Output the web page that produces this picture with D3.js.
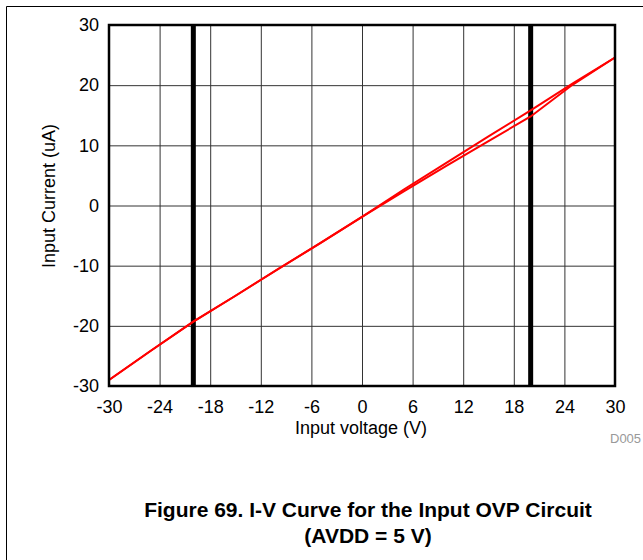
<!DOCTYPE html>
<html>
<head>
<meta charset="utf-8">
<script src="https://cdn.jsdelivr.net/npm/d3@7"></script>
<style>
  body { margin: 0; background: #fff; }
  svg { display: block; font-family: Arial, "Liberation Sans", sans-serif; }
</style>
</head>
<body>
<svg id="chart" width="643" height="560"></svg>
<script>
// sweep going up (lower branch) and coming back down (upper branch)
const voltageUp = [-30, -25, -20, -15, -10, -5, 0, 5, 10, 15, 20, 25, 30];
const currentUp = [-29.0, -24.1, -19.3, -15.0, -10.6, -6.3, -1.9, 2.4, 6.6, 10.7, 14.8, 20.1, 24.6];
const voltageDown = [30, 25, 20, 15, 10, 5, 0, -5, -10, -15, -20, -25, -30];
const currentDown = [24.6, 20.3, 15.8, 11.5, 7.1, 2.7, -1.9, -6.3, -10.6, -15.0, -19.3, -24.1, -29.0];

const xTicks = [-30, -24, -18, -12, -6, 0, 6, 12, 18, 24, 30];
const yTicks = [-30, -20, -10, 0, 10, 20, 30];
const ovpLimits = [-20, 20];

const xLabel = 'Input voltage (V)';
const yLabel = 'Input Current (uA)';
const figureId = 'D005';
const titleLines = ['Figure 69. I-V Curve for the Input OVP Circuit', '(AVDD = 5 V)'];

const svg = d3.select('#chart');
const margin = { left: 109, top: 25, right: 28, bottom: 174 };
const width = 643 - margin.left - margin.right;
const height = 560 - margin.top - margin.bottom;
const tickFont = '18px';

// page frame (top and left only)
svg.append('path')
    .attr('d', 'M6.5,560 L6.5,6.5 L643,6.5')
    .attr('fill', 'none')
    .attr('stroke', '#000')
    .attr('stroke-width', 1);

const g = svg.append('g').attr('transform', `translate(${margin.left},${margin.top})`);

const x = d3.scaleLinear().domain([-30, 30]).range([0, width]);
const y = d3.scaleLinear().domain([-30, 30]).range([height, 0]);

// grid
g.append('g')
    .attr('class', 'xgrid')
    .attr('transform', `translate(0,${height})`)
    .call(d3.axisBottom(x).tickValues(xTicks).tickSize(-height).tickFormat(''))
    .call(a => a.select('.domain').remove())
    .selectAll('line').attr('stroke', '#333').attr('stroke-width', 1);

g.append('g')
    .attr('class', 'ygrid')
    .call(d3.axisLeft(y).tickValues(yTicks).tickSize(-width).tickFormat(''))
    .call(a => a.select('.domain').remove())
    .selectAll('line').attr('stroke', '#333').attr('stroke-width', 1);

// thick OVP threshold markers
g.selectAll('line.limit')
    .data(ovpLimits)
    .join('line')
    .attr('class', 'limit')
    .attr('x1', d => x(d)).attr('x2', d => x(d))
    .attr('y1', 0).attr('y2', height)
    .attr('stroke', '#000')
    .attr('stroke-width', 5);

// curves
const line = d3.line()
    .x(d => x(d[0]))
    .y(d => y(d[1]));

const sweeps = [
    d3.zip(voltageUp, currentUp),
    d3.zip(voltageDown, currentDown)
];

g.selectAll('path.curve')
    .data(sweeps)
    .join('path')
    .attr('class', 'curve')
    .attr('d', line)
    .attr('fill', 'none')
    .attr('stroke', '#ff0000')
    .attr('stroke-width', 2);

// plot border
g.append('rect')
    .attr('width', width)
    .attr('height', height)
    .attr('fill', 'none')
    .attr('stroke', '#000')
    .attr('stroke-width', 2.5);

// tick labels (plain hyphen for negatives, like the original)
const xAxis = g.append('g')
    .attr('transform', `translate(0,${height})`)
    .call(d3.axisBottom(x).tickValues(xTicks).tickSize(0).tickPadding(14).tickFormat(d => String(d)));
xAxis.select('.domain').remove();
xAxis.selectAll('text').style('font-size', tickFont).style('font-family', 'Arial, "Liberation Sans", sans-serif').attr('fill', '#000');

const yAxis = g.append('g')
    .call(d3.axisLeft(y).tickValues(yTicks).tickSize(0).tickPadding(10).tickFormat(d => String(d)));
yAxis.select('.domain').remove();
yAxis.selectAll('text').style('font-size', tickFont).style('font-family', 'Arial, "Liberation Sans", sans-serif').attr('fill', '#000');

// axis titles
svg.append('text')
    .attr('x', 361)
    .attr('y', 434)
    .attr('text-anchor', 'middle')
    .style('font-size', '18px')
    .text(xLabel);

svg.append('text')
    .attr('transform', 'translate(55,196) rotate(-90)')
    .attr('text-anchor', 'middle')
    .style('font-size', '18px')
    .text(yLabel);

svg.append('text')
    .attr('x', 610)
    .attr('y', 443)
    .attr('fill', '#999')
    .style('font-size', '13px')
    .text(figureId);

// caption
svg.selectAll('text.caption')
    .data(titleLines)
    .join('text')
    .attr('class', 'caption')
    .attr('x', 368)
    .attr('y', (d, i) => 517 + i * 26)
    .attr('text-anchor', 'middle')
    .style('font-size', '21px')
    .style('font-weight', 'bold')
    .text(d => d);
</script>
</body>
</html>
